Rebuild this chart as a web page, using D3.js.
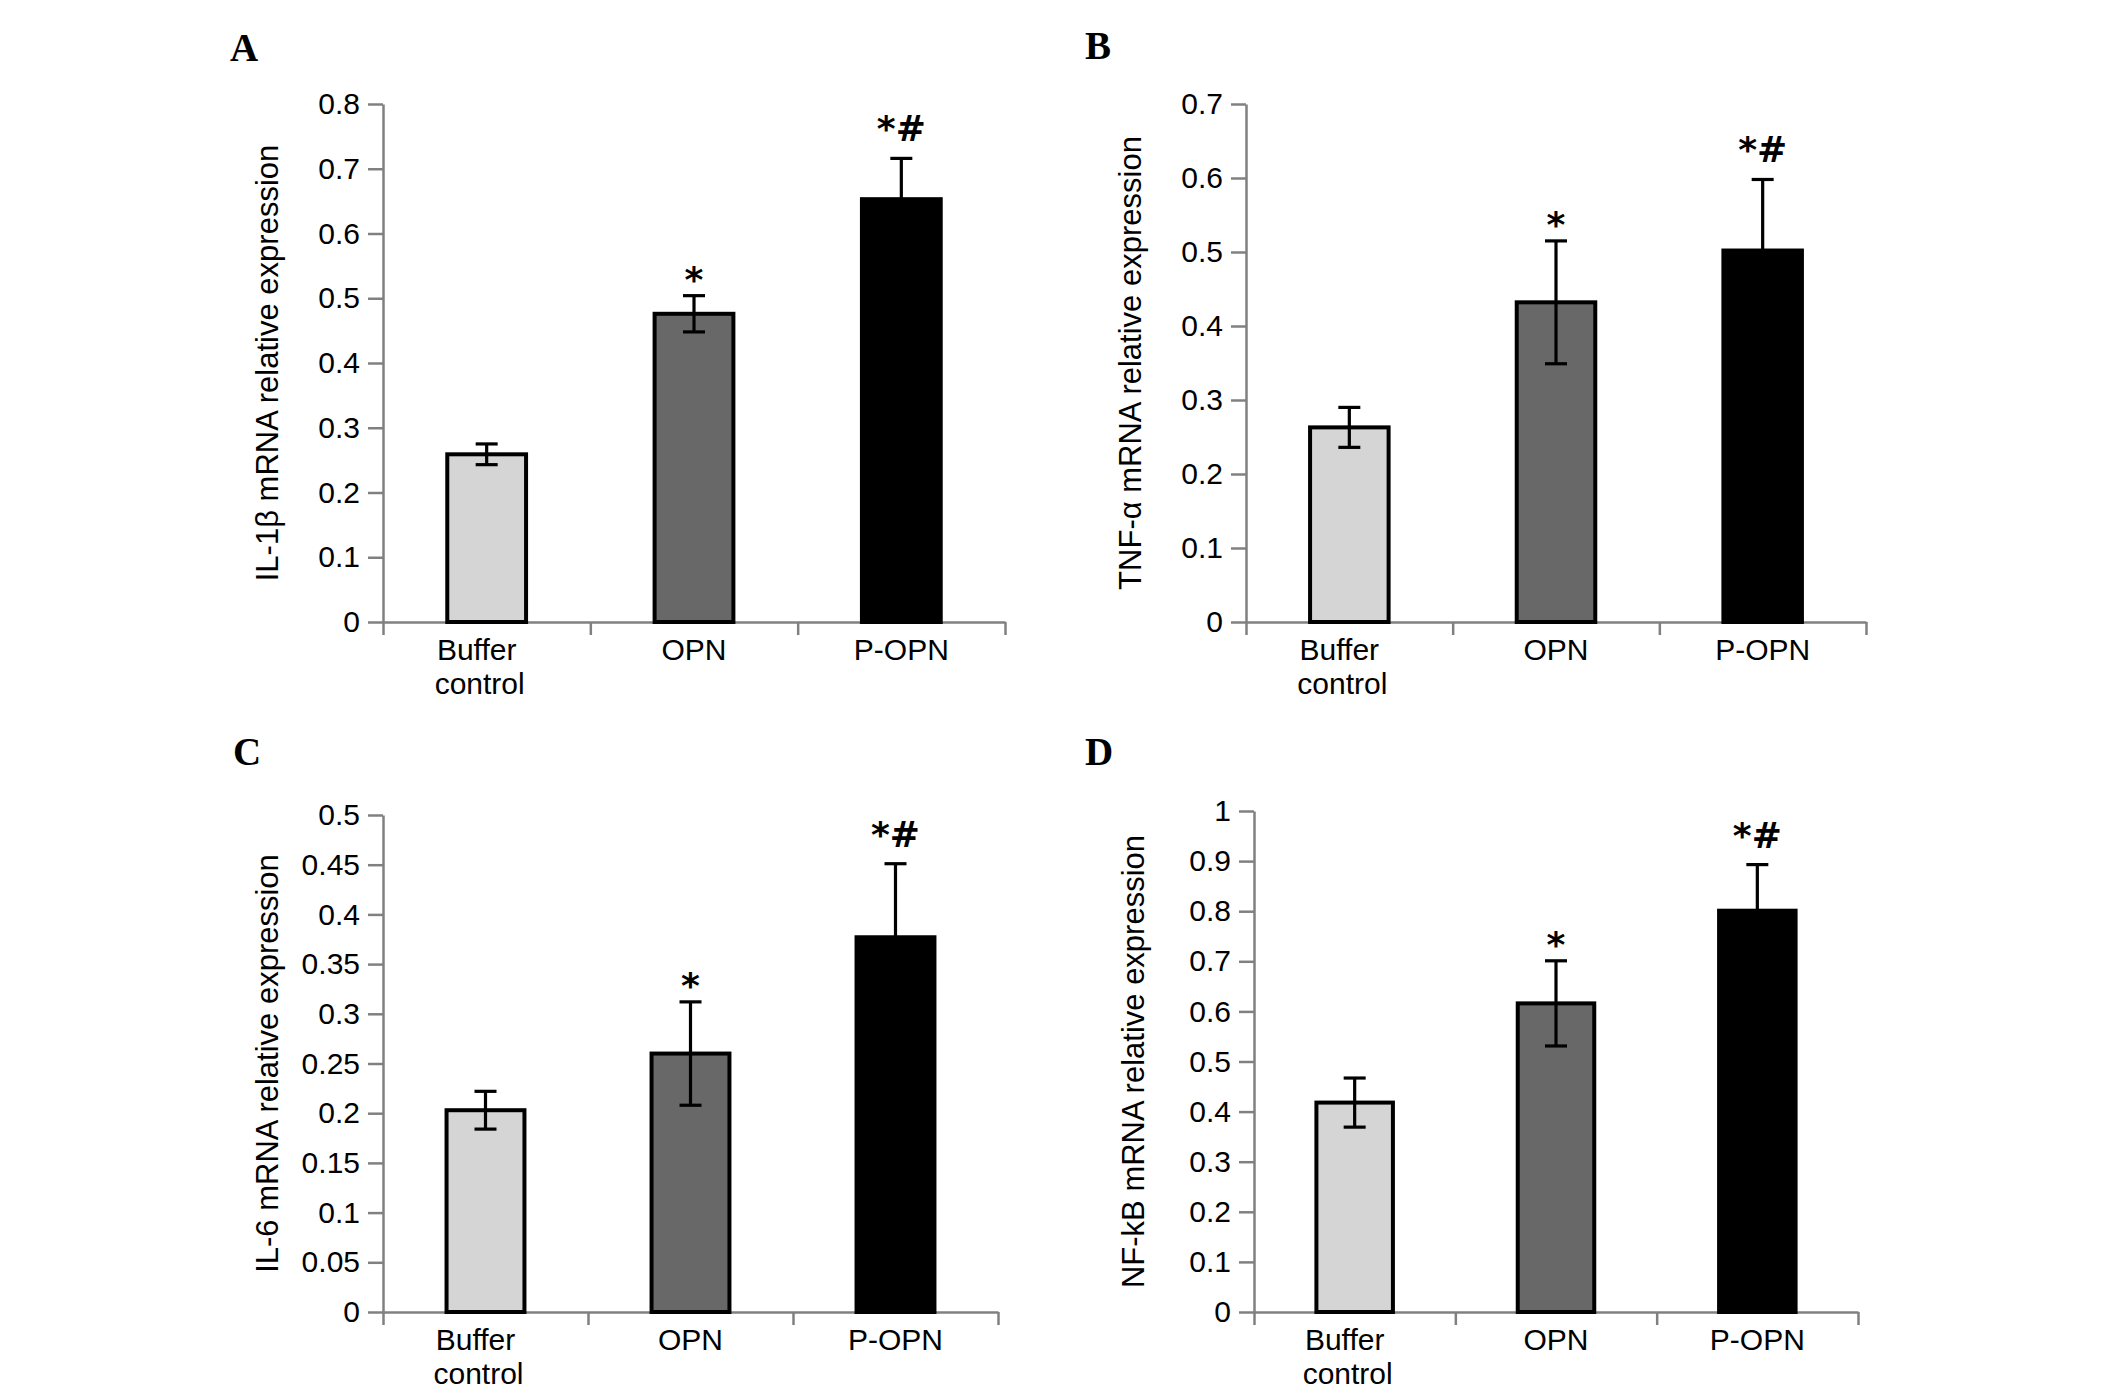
<!DOCTYPE html>
<html>
<head>
<meta charset="utf-8">
<script src="https://cdn.jsdelivr.net/npm/d3@7"></script>
<style>
  html, body { margin: 0; padding: 0; background: #fff; }
  svg { display: block; }
</style>
</head>
<body>
<svg id="chart" width="2126" height="1394"></svg>
<script>
// ---------- data ----------
const categories = [["Buffer", "control"], ["OPN"], ["P-OPN"]];
const panelLetters = ["A", "B", "C", "D"];
const yTitles = ["IL-1β mRNA relative expression", "TNF-α mRNA relative expression",
                 "IL-6 mRNA relative expression", "NF-kB mRNA relative expression"];
const il1bValues = [0.259, 0.476, 0.653];
const il1bErrors = [0.016, 0.028, 0.063];
const tnfaValues = [0.263, 0.432, 0.502];
const tnfaErrors = [0.027, 0.083, 0.096];
const il6Values  = [0.203, 0.260, 0.377];
const il6Errors  = [0.019, 0.052, 0.074];
const nfkbValues = [0.418, 0.616, 0.801];
const nfkbErrors = [0.049, 0.085, 0.092];
const il1bTicks = [0, 0.1, 0.2, 0.3, 0.4, 0.5, 0.6, 0.7, 0.8];
const tnfaTicks = [0, 0.1, 0.2, 0.3, 0.4, 0.5, 0.6, 0.7];
const il6Ticks  = [0, 0.05, 0.1, 0.15, 0.2, 0.25, 0.3, 0.35, 0.4, 0.45, 0.5];
const nfkbTicks = [0, 0.1, 0.2, 0.3, 0.4, 0.5, 0.6, 0.7, 0.8, 0.9, 1];
const significance = ["", "*", "*#"];

// ---------- layout (positions / styles) ----------
const layout = [
  { x0: 383,  x1: 1005, y0: 622,  y1: 104, lx: 230,  ly: 61,  tdx: 113 },
  { x0: 1246, x1: 1866, y0: 622,  y1: 104, lx: 1085, ly: 59,  tdx: 113 },
  { x0: 383,  x1: 998,  y0: 1312, y1: 815, lx: 233,  ly: 765, tdx: 113 },
  { x0: 1254, x1: 1858, y0: 1312, y1: 811, lx: 1085, ly: 765, tdx: 118 }
];
const panelValues = [il1bValues, tnfaValues, il6Values, nfkbValues];
const panelErrors = [il1bErrors, tnfaErrors, il6Errors, nfkbErrors];
const panelTicks  = [il1bTicks, tnfaTicks, il6Ticks, nfkbTicks];
const barFills = ["#d5d5d5", "#686868", "#000000"];
const axisColor = "#808080";
const sansFont = "'Liberation Sans', Arial, sans-serif";

const svg = d3.select("#chart");

panelLetters.forEach((letter, p) => {
  const L = layout[p];
  const values = panelValues[p], errors = panelErrors[p], ticks = panelTicks[p];
  const g = svg.append("g");

  const y = d3.scaleLinear().domain([0, d3.max(ticks)]).range([L.y0, L.y1]);
  const x = d3.scaleBand().domain(d3.range(categories.length)).range([L.x0, L.x1]).padding(0);
  const xEdge = d3.scaleLinear().domain([0, categories.length]).range([L.x0, L.x1]);

  // panel letter
  g.append("text").attr("x", L.lx).attr("y", L.ly)
    .attr("font-family", "'Liberation Serif', 'Times New Roman', serif")
    .attr("font-weight", "bold").attr("font-size", 39).attr("fill", "#000").text(letter);

  // y axis
  const yAxis = d3.axisLeft(y).tickValues(ticks).tickSize(15).tickPadding(8)
    .tickSizeOuter(0).tickFormat(d => String(+d.toFixed(2)));
  const ya = g.append("g").attr("transform", `translate(${L.x0},0)`).call(yAxis);
  ya.select(".domain").attr("stroke", axisColor).attr("stroke-width", 2.5);
  ya.selectAll(".tick line").attr("stroke", axisColor).attr("stroke-width", 2.5);
  ya.selectAll(".tick text").attr("font-family", sansFont).attr("font-size", 30).attr("fill", "#000");

  // x axis (category boundaries)
  const xAxis = d3.axisBottom(xEdge).tickValues(d3.range(categories.length + 1))
    .tickSize(13).tickSizeOuter(0).tickFormat("");
  const xa = g.append("g").attr("transform", `translate(0,${L.y0})`).call(xAxis);
  xa.select(".domain").attr("stroke", axisColor).attr("stroke-width", 2.5);
  xa.selectAll(".tick line").attr("stroke", axisColor).attr("stroke-width", 2.5);

  // y title
  g.append("text")
    .attr("transform", `translate(${L.x0 - L.tdx},${(L.y0 + L.y1) / 2}) rotate(-90)`)
    .attr("text-anchor", "middle").attr("dominant-baseline", "middle")
    .attr("font-family", sansFont).attr("font-size", 31).attr("fill", "#000")
    .text(yTitles[p]);

  // bars
  const bw = x.bandwidth() * 0.38;
  g.selectAll("rect.bar").data(values).join("rect").attr("class", "bar")
    .attr("x", (d, i) => x(i) + x.bandwidth() / 2 - bw / 2)
    .attr("y", d => y(d))
    .attr("width", bw)
    .attr("height", d => y(0) - y(d))
    .attr("fill", (d, i) => barFills[i])
    .attr("stroke", "#000").attr("stroke-width", 4);

  // error bars
  const cap = 11;
  values.forEach((v, i) => {
    const cx = x(i) + x.bandwidth() / 2;
    const e = errors[i];
    const eg = g.append("g").attr("stroke", "#000").attr("stroke-width", 3.2);
    eg.append("line").attr("x1", cx).attr("x2", cx).attr("y1", y(v + e)).attr("y2", y(v - e));
    eg.append("line").attr("x1", cx - cap).attr("x2", cx + cap).attr("y1", y(v + e)).attr("y2", y(v + e));
    eg.append("line").attr("x1", cx - cap).attr("x2", cx + cap).attr("y1", y(v - e)).attr("y2", y(v - e));
    if (significance[i]) {
      const off = significance[i].length > 1 ? 17 : 4;
      g.append("text").attr("x", cx).attr("y", y(v + e) - off)
        .attr("text-anchor", "middle")
        .attr("font-family", "'DejaVu Sans', sans-serif").attr("font-weight", "bold")
        .attr("font-size", 36).attr("fill", "#000").text(significance[i]);
    }
  });

  // category labels
  categories.forEach((lines, i) => {
    const cx = x(i) + x.bandwidth() / 2;
    lines.forEach((t, k) => {
      const shift = lines.length > 1 ? (k === 0 ? -10 : -7) : 0;
      g.append("text").attr("x", cx + shift).attr("y", L.y0 + 38 + k * 34)
        .attr("text-anchor", "middle").attr("font-family", sansFont)
        .attr("font-size", 30).attr("fill", "#000").text(t);
    });
  });
});
</script>
</body>
</html>
